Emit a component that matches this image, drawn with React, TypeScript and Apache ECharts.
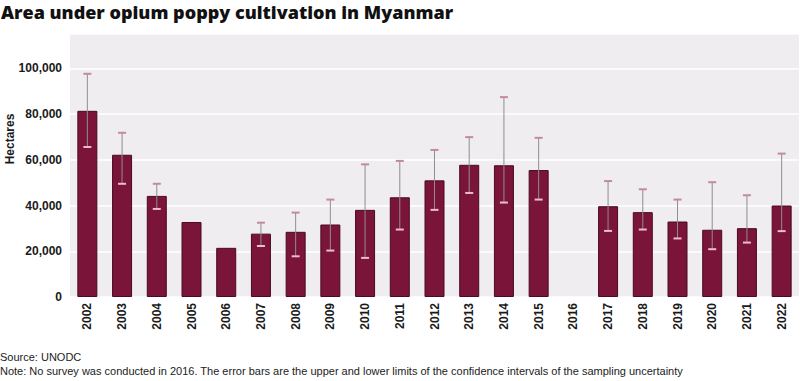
import React, { useEffect, useRef } from "react";
import * as echarts from "echarts";

const years = ["2002","2003","2004","2005","2006","2007","2008","2009","2010","2011","2012","2013","2014","2015","2016","2017","2018","2019","2020","2021","2022"];
const hectares: (number | null)[] = [81400, 62200, 44200, 32800, 21500, 27700, 28500, 31700, 38100, 43600, 51000, 57800, 57600, 55500, null, 39700, 37100, 33000, 29400, 30100, 40000];
const lowerLimits: (number | null)[] = [65600, 49500, 38500, null, null, 22300, 17800, 20300, 17100, 29500, 38100, 45500, 41300, 42600, null, 28900, 29500, 25600, 20900, 23800, 28800];
const upperLimits: (number | null)[] = [97600, 71800, 49500, null, null, 32500, 36900, 42600, 58000, 59500, 64300, 69900, 87400, 69600, null, 50700, 47100, 42600, 50200, 44500, 62700];
const yTicks = [0, 20000, 40000, 60000, 80000, 100000];

export default function App() {
  const ref = useRef<HTMLDivElement>(null);
  useEffect(() => {
    if (!ref.current) return;
    const chart = echarts.init(ref.current, undefined, { renderer: "svg" });
    const errData = years.map((_, i) => [i, lowerLimits[i], upperLimits[i]]);
    chart.setOption({
      animation: false,
      title: {
        text: "Area under opium poppy cultivation in Myanmar",
        left: 0,
        top: 1,
        padding: [0, 0, 0, 1],
        textStyle: { fontFamily: "Open Sans", fontWeight: 800, fontSize: 18, lineHeight: 22, color: "#111" },
      },
      grid: {
        left: 70, right: 1, top: 34, bottom: 84,
        show: true, backgroundColor: "#efedef", borderWidth: 0,
      },
      xAxis: {
        type: "category",
        data: years,
        axisLine: { show: false },
        axisTick: { show: false },
        axisLabel: {
          rotate: 90, margin: 6, fontFamily: "Liberation Sans", fontWeight: "bold",
          fontSize: 12, color: "#1a1a1a", interval: 0,
        },
      },
      yAxis: {
        type: "value",
        min: 0, max: 115000, interval: 20000,
        axisLine: { show: false },
        axisTick: { show: false },
        splitLine: { lineStyle: { color: "#ffffff", width: 1.5 } },
        axisLabel: {
          margin: 8, fontFamily: "Liberation Sans", fontWeight: "bold", fontSize: 12, color: "#1a1a1a",
          formatter: (v: number) => (yTicks.includes(v) ? v.toLocaleString("en-US") : ""),
        },
      },
      series: [
        {
          type: "bar",
          data: hectares,
          barWidth: 20,
          itemStyle: { color: "#7a1439", borderColor: "#4a0a22", borderWidth: 1 },
        },
        {
          type: "custom",
          data: errData,
          z: 5,
          renderItem: (params: any, api: any) => {
            const lo = api.value(1);
            const hi = api.value(2);
            if (lo == null || hi == null || isNaN(lo) || isNaN(hi)) return null;
            const idx = api.value(0);
            const pHi = api.coord([idx, hi]);
            const pLo = api.coord([idx, lo]);
            const hw = 4;
            return {
              type: "group",
              children: [
                { type: "line", shape: { x1: pHi[0], y1: pHi[1], x2: pLo[0], y2: pLo[1] }, style: { stroke: "#8f8f8f", lineWidth: 1 } },
                { type: "line", shape: { x1: pHi[0] - hw, y1: pHi[1], x2: pHi[0] + hw, y2: pHi[1] }, style: { stroke: "#c48a9c", lineWidth: 2 } },
                { type: "line", shape: { x1: pLo[0] - hw, y1: pLo[1], x2: pLo[0] + hw, y2: pLo[1] }, style: { stroke: "#efbccb", lineWidth: 2 } },
              ],
            };
          },
        },
      ],
      graphic: [
        {
          type: "text", x: 10, y: 139, rotation: Math.PI / 2,
          style: { text: "Hectares", fontFamily: "Liberation Sans", fontWeight: "bold", fontSize: 12, fill: "#1a1a1a", align: "center", verticalAlign: "middle" },
        },
        {
          type: "text", x: 0, y: 351,
          style: { text: "Source: UNODC", fontFamily: "Liberation Sans Narrow, Liberation Sans", fontSize: 11, fill: "#222" },
        },
        {
          type: "text", x: 0, y: 365,
          style: { text: "Note: No survey was conducted in 2016. The error bars are the upper and lower limits of the confidence intervals of the sampling uncertainty", fontFamily: "Liberation Sans Narrow, Liberation Sans", fontSize: 11, fill: "#222" },
        },
      ],
    });
    return () => chart.dispose();
  }, []);
  return <div ref={ref} style={{ width: 800, height: 381, position: "absolute", left: 0, top: 0 }} />;
}
